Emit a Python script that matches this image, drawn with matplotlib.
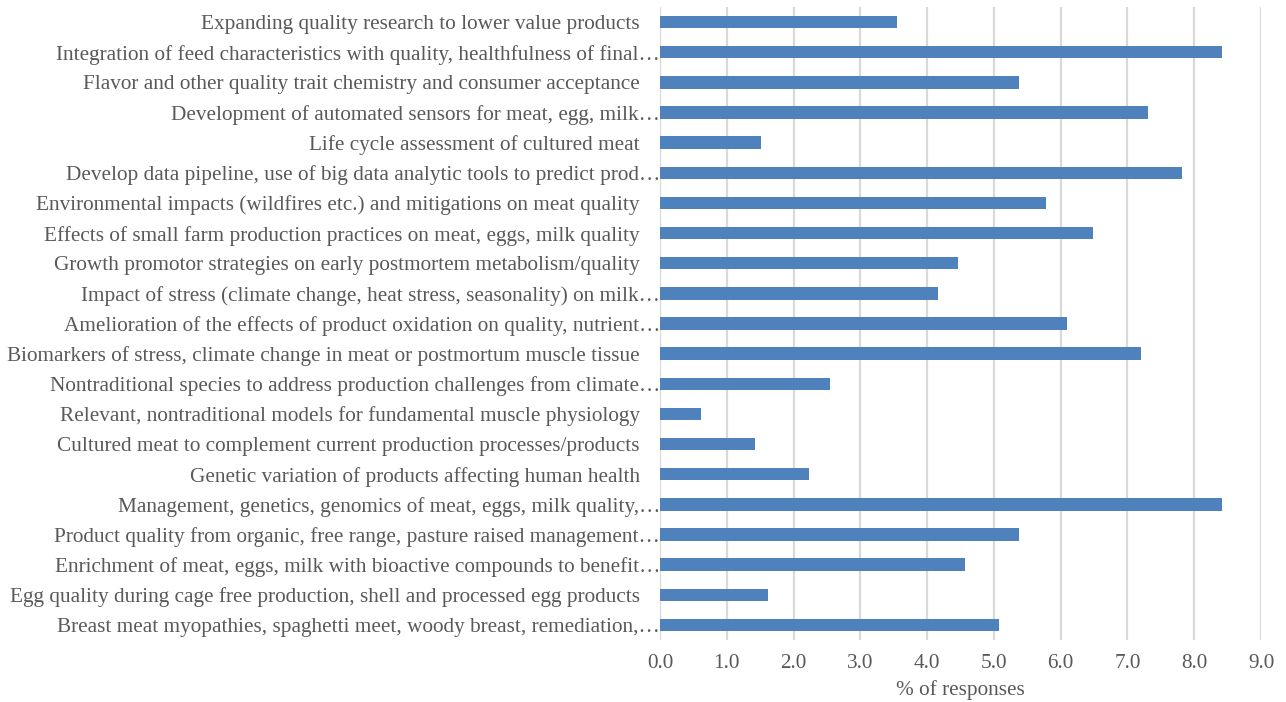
import matplotlib.pyplot as plt
import matplotlib.transforms as mtransforms
import numpy as np

# Categories listed bottom to top (matplotlib barh order)
topics = [
    "Breast meat myopathies, spaghetti meet, woody breast, remediation,\u2026",
    "Egg quality during cage free production, shell and processed egg products",
    "Enrichment of meat, eggs, milk with bioactive compounds to benefit\u2026",
    "Product quality from organic, free range, pasture raised management\u2026",
    "Management, genetics, genomics of meat, eggs, milk quality,\u2026",
    "Genetic variation of products affecting human health",
    "Cultured meat to complement current production processes/products",
    "Relevant, nontraditional models for fundamental muscle physiology",
    "Nontraditional species to address production challenges from climate\u2026",
    "Biomarkers of stress, climate change in meat or postmortum muscle tissue",
    "Amelioration of the effects of product oxidation on quality, nutrient\u2026",
    "Impact of stress (climate change, heat stress, seasonality) on milk\u2026",
    "Growth promotor strategies on early postmortem metabolism/quality",
    "Effects of small farm production practices on meat, eggs, milk quality",
    "Environmental impacts (wildfires etc.) and mitigations on meat quality",
    "Develop data pipeline, use of big data analytic tools to predict prod\u2026",
    "Life cycle assessment of cultured meat",
    "Development of automated sensors for meat, egg, milk\u2026",
    "Flavor and other quality trait chemistry and consumer acceptance",
    "Integration of feed characteristics with quality, healthfulness of final\u2026",
    "Expanding quality research to lower value products",
]
pct_responses = [5.07, 1.62, 4.56, 5.38, 8.42, 2.23, 1.42, 0.61, 2.54, 7.20, 6.09,
                 4.16, 4.46, 6.49, 5.78, 7.81, 1.52, 7.30, 5.38, 8.42, 3.55]
x_ticks = np.arange(0, 9.5, 1.0)

plt.rcParams['font.family'] = ['Liberation Serif', 'DejaVu Serif']
text_color = '#595959'
fs = 15.3

fig = plt.figure(figsize=(12.86, 7.02), dpi=100)
ax = fig.add_axes([0.5132, 0.0883, 0.4674, 0.9017])

y = np.arange(len(topics))
ax.barh(y, pct_responses, height=0.41, color='#4F81BD', zorder=3)

ax.set_xlim(0, 9)
ax.set_ylim(-0.5, len(topics) - 0.5)
ax.set_xticks(x_ticks)
ax.set_xticklabels([f"{v:.1f}" for v in x_ticks], fontsize=fs, color=text_color)
ax.set_yticks(y)
ax.set_yticklabels(topics, fontsize=fs, color=text_color)
ax.tick_params(axis='both', length=0)
ax.tick_params(axis='y', pad=14.4)
ax.tick_params(axis='x', pad=10)

# Excel lets the ellipsis of cut labels hang past the text column
shift = mtransforms.ScaledTranslation(14.4 / 72, 0, fig.dpi_scale_trans)
for lbl in ax.get_yticklabels():
  if lbl.get_text().endswith('\u2026'):
    lbl.set_transform(lbl.get_transform() + shift)

ax.grid(axis='x', color='#D9D9D9', linewidth=1.6, zorder=0)
for side in ['top', 'right', 'bottom', 'left']:
  ax.spines[side].set_visible(False)

ax.set_xlabel('% of responses', fontsize=fs, color=text_color, labelpad=5)

plt.savefig('out.png', dpi=100)
plt.close()
